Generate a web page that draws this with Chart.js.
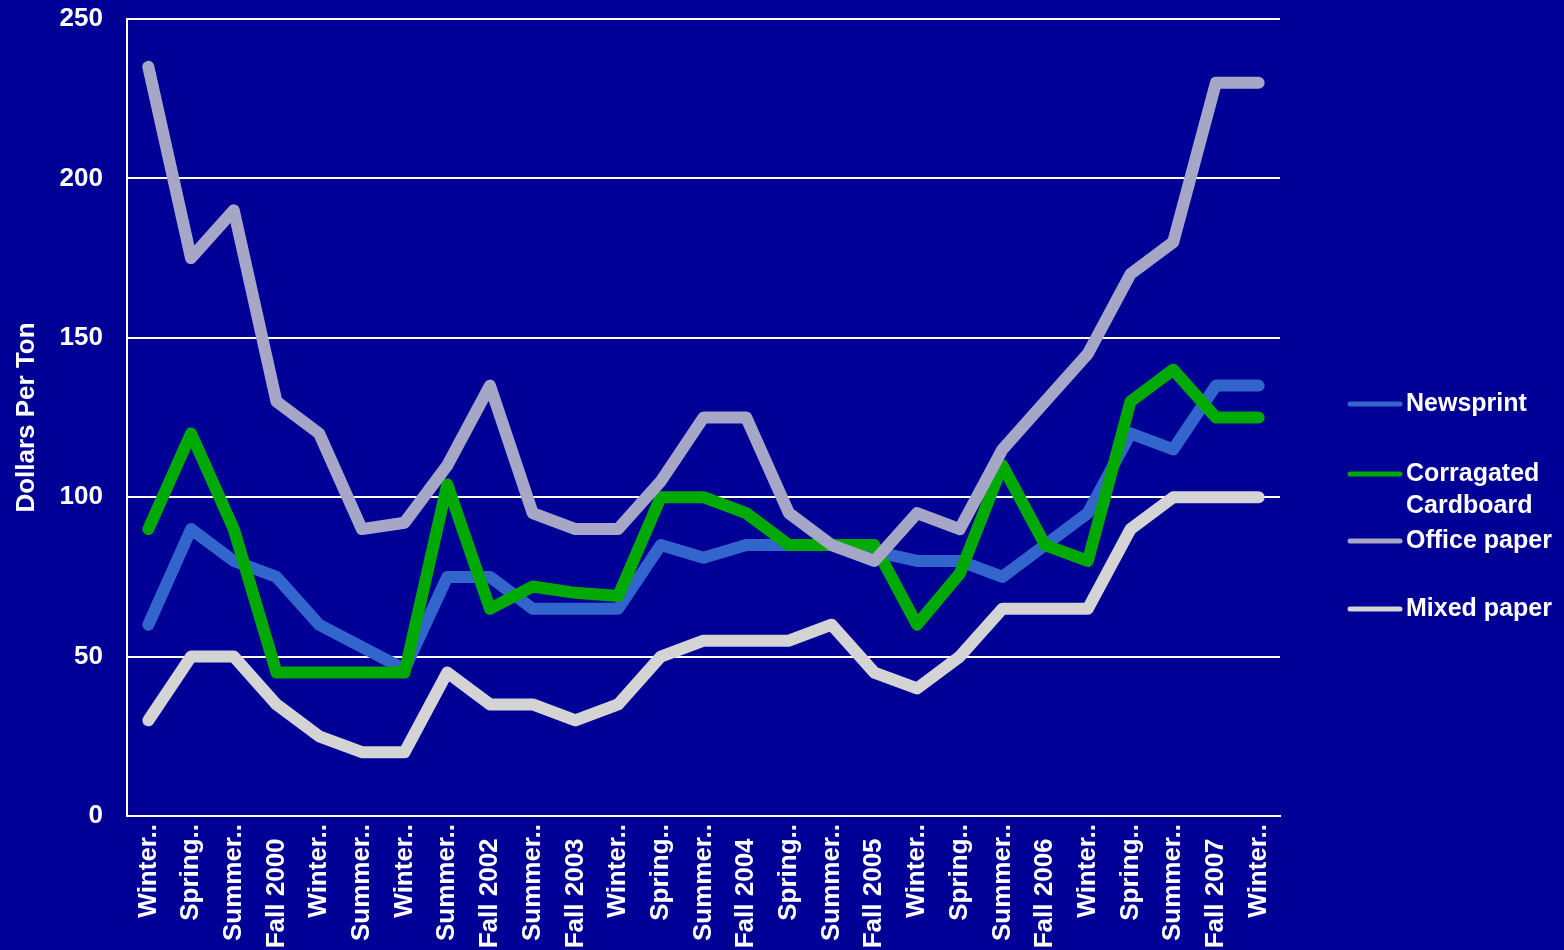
<!DOCTYPE html>
<html>
<head>
<meta charset="utf-8">
<script src="https://cdn.jsdelivr.net/npm/chart.js@4"></script>
<style>
  html, body { margin: 0; padding: 0; background: #000096; }
  #wrap { width: 1564px; height: 950px; }
</style>
</head>
<body>
<div id="wrap"><canvas id="myChart"></canvas></div>
<script>
const seasons = ['Winter..', 'Spring..', 'Summer..', 'Fall 2000  ', 'Winter..', 'Summer..', 'Winter..',
  'Summer..', 'Fall 2002  ', 'Summer..', 'Fall 2003  ', 'Winter..', 'Spring..', 'Summer..', 'Fall 2004  ',
  'Spring..', 'Summer..', 'Fall 2005  ', 'Winter..', 'Spring..', 'Summer..', 'Fall 2006  ', 'Winter..',
  'Spring..', 'Summer..', 'Fall 2007  ', 'Winter..']

const newsprint = [60, 90, 80, 75, 60, 53, 46, 75, 75, 65, 65, 65, 85, 81, 85, 85, 85, 83, 80, 80, 75, 85, 95, 120, 115, 135, 135]
const cardboard = [90, 120, 90, 45, 45, 45, 45, 104, 65, 72, 70, 69, 100, 100, 95, 85, 85, 85, 60, 76, 110, 85, 80, 130, 140, 125, 125]
const officePaper = [235, 175, 190, 130, 120, 90, 92, 110, 135, 95, 90, 90, 105, 125, 125, 95, 85, 80, 95, 90, 115, 130, 145, 170, 180, 230, 230]
const mixedPaper = [30, 50, 50, 35, 25, 20, 20, 45, 35, 35, 30, 35, 50, 55, 55, 55, 60, 45, 40, 50, 65, 65, 65, 90, 100, 100, 100]

const seriesNames = ['Newsprint', 'Corragated\nCardboard', 'Office paper', 'Mixed paper']
const colors = ['#3366cc', '#00aa00', '#a6a6c6', '#d4d4d4']
const yTicks = [0, 50, 100, 150, 200, 250]

const fontFamily = '"Liberation Sans", Arial, sans-serif'

// legend drawn by hand so the cardboard label can wrap onto two lines
const sideLegend = {
  id: 'sideLegend',
  afterDraw(chart) {
    const ctx = chart.ctx
    const x0 = chart.chartArea.right + 68
    const rows = [404, 474, 541, 609]
    ctx.save()
    ctx.font = 'bold 25px ' + fontFamily
    ctx.textBaseline = 'middle'
    ctx.lineCap = 'round'
    ctx.lineWidth = 5
    seriesNames.forEach((name, i) => {
      ctx.strokeStyle = colors[i]
      ctx.beginPath()
      ctx.moveTo(x0 + 2, rows[i])
      ctx.lineTo(x0 + 52, rows[i])
      ctx.stroke()
      ctx.fillStyle = '#ffffff'
      name.split('\n').forEach((line, j) => {
        ctx.fillText(line, x0 + 58, rows[i] + j * 32)
      })
    })
    ctx.restore()
  }
}

const makeSet = (label, data, i) => ({
  label: label,
  data: data,
  borderColor: colors[i],
  backgroundColor: colors[i],
  borderWidth: 12,
  borderCapStyle: 'round',
  borderJoinStyle: 'round',
  pointRadius: 0,
  tension: 0,
  fill: false,
  order: 4 - i
})

new Chart('myChart', {
  type: 'line',
  data: {
    labels: seasons,
    datasets: [
      makeSet(seriesNames[0], newsprint, 0),
      makeSet(seriesNames[1], cardboard, 1),
      makeSet(seriesNames[2], officePaper, 2),
      makeSet(seriesNames[3], mixedPaper, 3)
    ]
  },
  options: {
    responsive: true,
    maintainAspectRatio: false,
    animation: false,
    layout: { padding: { top: 19, right: 284, bottom: 0, left: 0 } },
    plugins: {
      legend: { display: false },
      tooltip: { enabled: false }
    },
    scales: {
      x: {
        offset: true,
        grid: { display: false },
        border: { display: true, color: '#ffffff', width: 2 },
        ticks: {
          color: '#ffffff',
          font: { family: fontFamily, size: 26, weight: 'bold' },
          minRotation: 90,
          maxRotation: 90,
          autoSkip: false,
          padding: 0
        },
        afterFit: (s) => { s.height = 134; s.paddingLeft = 0; s.paddingRight = 0 }
      },
      y: {
        min: 0,
        max: 250,
        afterBuildTicks: (s) => { s.ticks = yTicks.map(v => ({ value: v })) },
        grid: { color: '#ffffff', lineWidth: 2, drawTicks: false },
        border: { display: true, color: '#ffffff', width: 2 },
        ticks: {
          color: '#ffffff',
          font: { family: fontFamily, size: 26, weight: 'bold' },
          padding: 24
        },
        title: {
          display: true,
          text: 'Dollars Per Ton',
          color: '#ffffff',
          font: { family: fontFamily, size: 26, weight: 'bold' },
          padding: { top: 11, bottom: 0 }
        },
        afterFit: (s) => { s.width = 127; s.paddingTop = 0; s.paddingBottom = 0 }
      }
    }
  },
  plugins: [sideLegend]
})
</script>
</body>
</html>
